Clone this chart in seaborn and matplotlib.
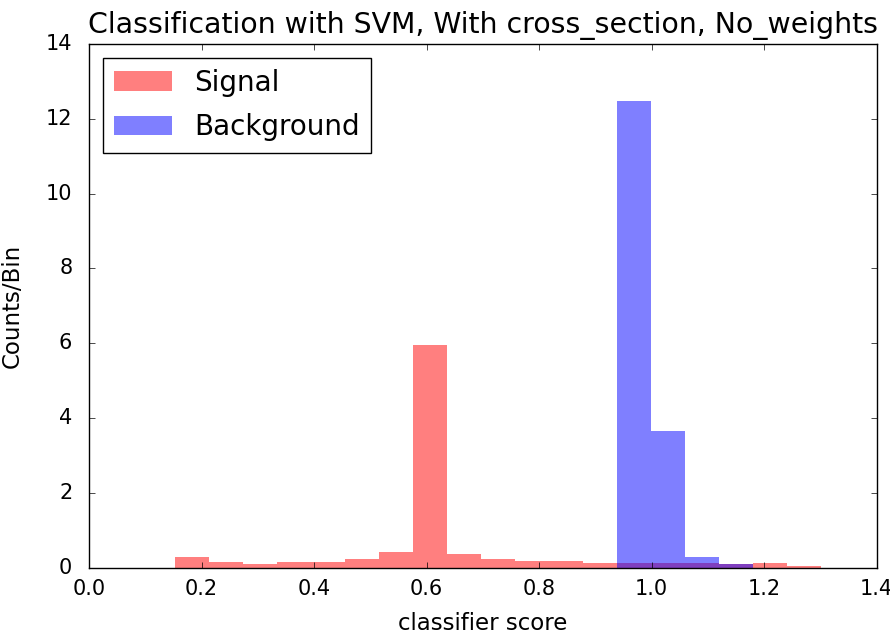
import numpy as np
import pandas as pd
import matplotlib
matplotlib.use("Agg")
import matplotlib.pyplot as plt
import seaborn as sns

# Old matplotlib look (inward ticks on all sides, boxed legend)
plt.style.use("classic")
plt.rcParams.update({
    "font.family": ["DejaVu Sans"],
    "font.size": 14.5,
    "figure.facecolor": "white",
    "savefig.facecolor": "white",
})

# Histogram counts per bin
signal_counts = [0.30, 0.17, 0.12, 0.17, 0.17, 0.24, 0.43, 5.95, 0.38, 0.24,
                 0.19, 0.19, 0.13, 0.14, 0.14, 0.14, 0.12, 0.13, 0.06]
background_counts = [0, 0, 0, 0, 0, 0, 0, 0, 0, 0,
                     0, 0, 0, 12.47, 3.66, 0.30, 0.10, 0, 0]

# 19 equal bins shared by both classes
score_lo, score_hi, n_bins = 0.153, 1.301, 19
bin_edges = np.linspace(score_lo, score_hi, n_bins + 1)
bin_centers = (bin_edges[:-1] + bin_edges[1:]) / 2

df = pd.DataFrame({
    "score": np.concatenate([bin_centers, bin_centers]),
    "count": signal_counts + background_counts,
    "label": ["Signal"] * n_bins + ["Background"] * n_bins,
})

fig = plt.figure(figsize=(8.9, 6.34), dpi=100)
ax = fig.add_axes([0.1, 0.104, 0.885, 0.827])

for name, color in [("Signal", "red"), ("Background", "blue")]:
    sub = df[df["label"] == name]
    sns.histplot(data=sub, x="score", weights="count", bins=n_bins,
                 binrange=(score_lo, score_hi),
                 color=color, alpha=0.5, linewidth=0, element="bars",
                 label=name, ax=ax)

ax.set_xlim(0.0, 1.4)
ax.set_ylim(0, 14)
ax.set_xticks(np.arange(0, 1.41, 0.2))
ax.set_xlabel("classifier score", fontsize=16.5, labelpad=9)
ax.set_ylabel("Counts/Bin", fontsize=16.5, labelpad=16)
ax.set_title("Classification with SVM, With cross_section, No_weights",
             fontsize=20.4, pad=8)
ax.tick_params(labelsize=15)
ax.tick_params(axis="y", pad=12)
ax.tick_params(axis="x", pad=8)
ax.legend(loc="upper left", fontsize=20, labelspacing=0.6,
          borderaxespad=0.5, handlelength=2.1)

plt.savefig("out.png", dpi=100)
